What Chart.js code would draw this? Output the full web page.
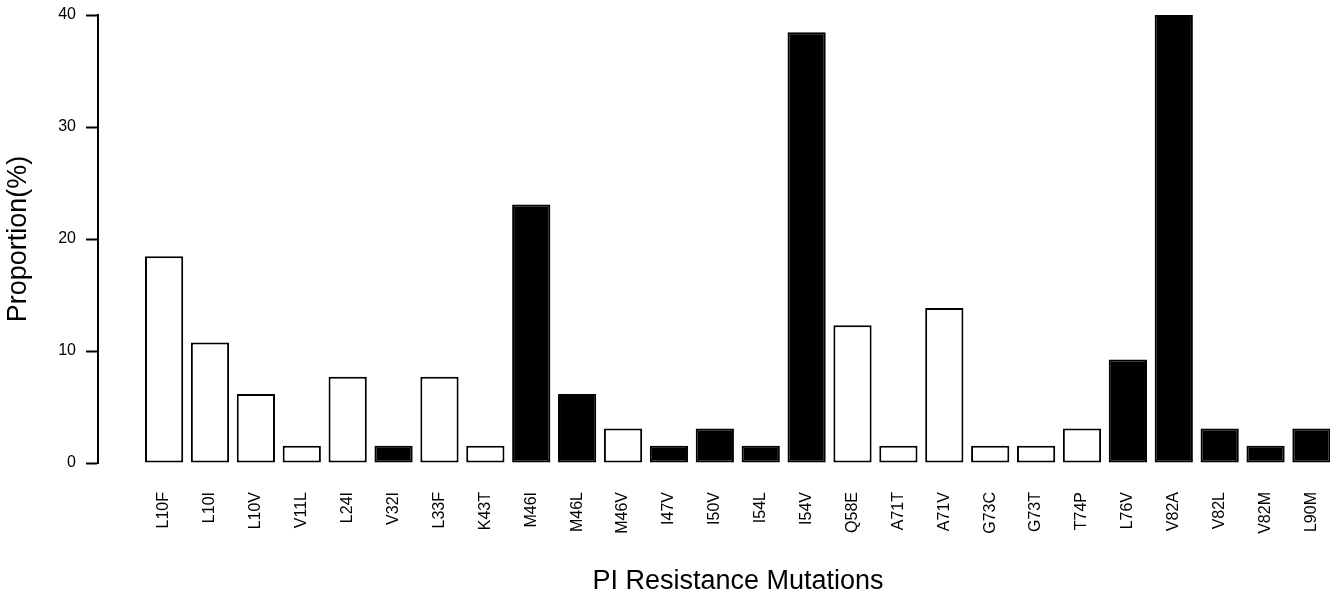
<html>

<head>
    <style>
        body {
            background-color: white;
            margin: 0;
            overflow: hidden;
        }
    </style>
    <script src="https://cdn.jsdelivr.net/npm/chart.js@4"></script>
</head>

<body>
    <canvas id="myChart" width="1330" height="598"></canvas>
</body>

<script>
    // PI resistance mutations and their proportion (%)
    var mutations = ['L10F', 'L10I', 'L10V', 'V11L', 'L24I', 'V32I', 'L33F', 'K43T', 'M46I', 'M46L',
        'M46V', 'I47V', 'I50V', 'I54L', 'I54V', 'Q58E', 'A71T', 'A71V', 'G73C', 'G73T',
        'T74P', 'L76V', 'V82A', 'V82L', 'V82M', 'L90M'];

    var proportions = [18.46, 10.77, 6.15, 1.54, 7.69, 1.54, 7.69, 1.54, 23.08, 6.15,
        3.08, 1.54, 3.08, 1.54, 38.46, 12.31, 1.54, 13.85, 1.54, 1.54,
        3.08, 9.23, 40.0, 3.08, 1.54, 3.08];

    // true = major mutation (filled bar)
    var isMajor = [false, false, false, false, false, true, false, false, true, true,
        false, true, true, true, true, false, false, false, false, false,
        false, true, true, true, true, true];

    var yTicks = [0, 10, 20, 30, 40];

    var fontName = "'Liberation Sans', Arial, sans-serif";

    var barPoints = [];
    for (var i = 0; i < mutations.length; i++) {
        barPoints.push({ x: i, y: proportions[i] });
    }

    // the original plot region runs past the right edge of the picture,
    // so stretch the x scale a bit beyond the canvas after layout
    var extendPlot = {
        id: 'extendPlot',
        afterLayout: function (c) {
            var s = c.scales.x;
            s.right = s.right + 48;
            s.width = s.right - s.left;
            s.configure();
        }
    };

    var paintingCanvas = document.getElementById('myChart').getContext('2d');
    var chart = new Chart(paintingCanvas, {
        type: 'bar',
        data: {
            datasets: [{
                data: barPoints,
                backgroundColor: isMajor.map(function (m) { return m ? '#000000' : '#ffffff'; }),
                borderColor: '#000000',
                borderWidth: 2,
                borderSkipped: false,
                barPercentage: 0.833,
                categoryPercentage: 1.0
            }]
        },
        plugins: [extendPlot],
        options: {
            responsive: false,
            animation: false,
            layout: { padding: { top: 15, left: 0, right: 0, bottom: 0 } },
            plugins: {
                legend: { display: false },
                tooltip: { enabled: false }
            },
            scales: {
                x: {
                    type: 'linear',
                    offset: false,
                    min: -1.44,
                    max: 26.45,
                    grid: { display: false, drawTicks: false },
                    border: { display: false },
                    afterBuildTicks: function (scale) {
                        scale.ticks = mutations.map(function (m, idx) { return { value: idx }; });
                    },
                    afterFit: function (scale) {
                        scale.height = 135;
                        scale.paddingLeft = 0;
                        scale.paddingRight = 0;
                    },
                    ticks: {
                        autoSkip: false,
                        minRotation: 90,
                        maxRotation: 90,
                        padding: 29,
                        color: '#000',
                        font: { family: fontName, size: 16 },
                        callback: function (value) { return mutations[value]; }
                    },
                    title: {
                        display: true,
                        text: 'PI Resistance Mutations',
                        color: '#000',
                        font: { family: fontName, size: 27 },
                        padding: { top: 0, bottom: 0 }
                    }
                },
                y: {
                    min: 0,
                    max: 40,
                    afterBuildTicks: function (scale) {
                        scale.ticks = yTicks.map(function (t) { return { value: t }; });
                    },
                    afterFit: function (scale) { scale.width = 98; },
                    grid: {
                        drawOnChartArea: false,
                        drawTicks: true,
                        tickLength: 12,
                        tickColor: '#000',
                        tickWidth: 2
                    },
                    border: { display: true, color: '#000', width: 2 },
                    ticks: {
                        padding: 10,
                        color: '#000',
                        font: { family: fontName, size: 16, lineHeight: 0.6 }
                    },
                    title: {
                        display: true,
                        text: 'Proportion(%)',
                        color: '#000',
                        font: { family: fontName, size: 27 },
                        padding: { top: 2, bottom: 0 }
                    }
                }
            }
        }
    });
</script>

</html>
